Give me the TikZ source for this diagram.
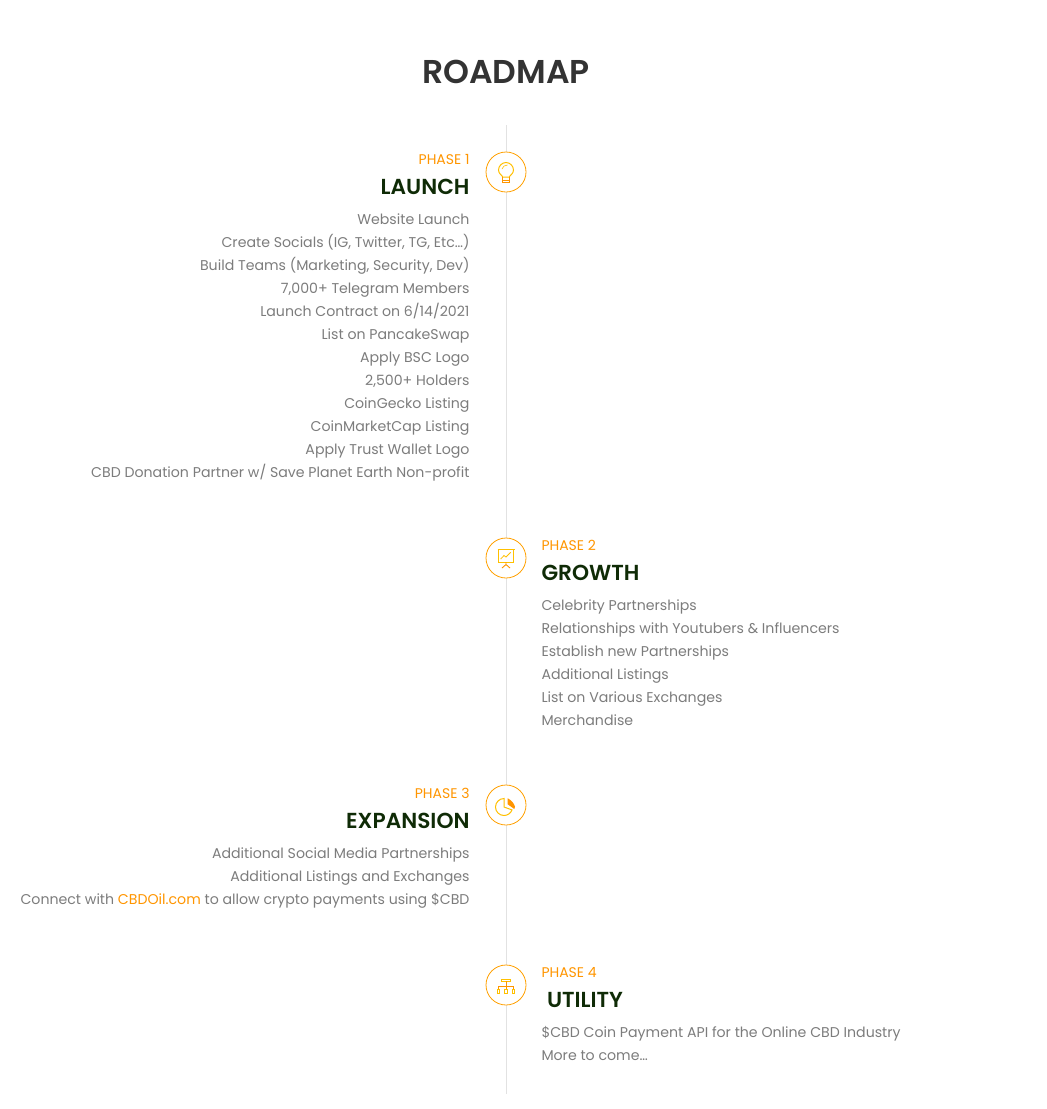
\documentclass[tikz,border=0pt]{standalone}
\usepackage{fontspec}
\setmainfont{Poppins}
\newfontfamily\psemi{Poppins SemiBold}
\definecolor{orng}{HTML}{FF9500}
\definecolor{ring}{HTML}{FFA000}
\definecolor{icon}{HTML}{FFC000}
\definecolor{dgreen}{HTML}{0F2B06}
\definecolor{body}{HTML}{7C7C7C}
\definecolor{ttl}{HTML}{333333}
\definecolor{rule}{HTML}{E2E2E2}
\tikzset{
 x=1pt,y=-1pt,
 every node/.style={inner sep=0pt,outer sep=0pt},
 ttlnode/.style={font=\fontsize{33}{36}\psemi,text=ttl,anchor=base},
 phl/.style={font=\fontsize{14}{16}\selectfont,text=orng,anchor=base east},
 phr/.style={font=\fontsize{14}{16}\selectfont,text=orng,anchor=base west},
 hdl/.style={font=\fontsize{21.7}{24}\psemi,text=dgreen,anchor=base east},
 hdr/.style={font=\fontsize{21.7}{24}\psemi,text=dgreen,anchor=base west},
 txl/.style={font=\fontsize{14.15}{16}\selectfont,text=body,anchor=base east},
 txr/.style={font=\fontsize{14.15}{16}\selectfont,text=body,anchor=base west},
 ringnode/.style={circle,draw=ring,fill=white,line width=0.8pt,minimum size=40pt},
 ic/.style={draw=icon,line width=1pt},
}
\begin{document}
\begin{tikzpicture}
\useasboundingbox (0,0) rectangle (1047,1109);
\coordinate (top) at (506,125);
\coordinate (bot) at (506,1094);
\draw[rule,line width=1pt] (top) -- (bot);
\node[ttlnode] (title) at (506,83) {ROADMAP};
% Phase 1
\node[ringnode] (c1) at (506,172) {};
\begin{scope}[shift={(c1.center)}]
 \draw[ic] (-3.3,5) .. controls (-3.5,3.5) and (-7.5,2) .. (-7.5,-2) .. controls (-7.5,-6) and (-4,-9.5) .. (0,-9.5) .. controls (4,-9.5) and (7.5,-6) .. (7.5,-2) .. controls (7.5,2) and (3.5,3.5) .. (3.3,5) -- cycle;
 \draw[draw=orng,line width=.9pt] (-3.3,5) -- (-3.3,10.5) -- (3.3,10.5) -- (3.3,5) (-3.3,8) -- (3.3,8);
 \draw[ic,line width=.6pt] (-4,-3) .. controls (-3.5,-5.5) and (-1,-7) .. (1.5,-7);
\end{scope}
\node[phl] (p1) at (469.5,164) {PHASE 1};
\node[hdl] (h1) at (469.5,194) {LAUNCH};
\node[txl] (a1) at (469.5,224) {Website Launch};
\node[txl] (a2) at (469.5,247) {Create Socials (IG, Twitter, TG, Etc…)};
\node[txl] (a3) at (469.5,270) {Build Teams (Marketing, Security, Dev)};
\node[txl] (a4) at (469.5,293) {7,000+ Telegram Members};
\node[txl] (a5) at (469.5,316) {Launch Contract on 6/14/2021};
\node[txl] (a6) at (469.5,339) {List on PancakeSwap};
\node[txl] (a7) at (469.5,362) {Apply BSC Logo};
\node[txl] (a8) at (469.5,385) {2,500+ Holders};
\node[txl] (a9) at (469.5,408) {CoinGecko Listing};
\node[txl] (a10) at (469.5,431) {CoinMarketCap Listing};
\node[txl] (a11) at (469.5,454) {Apply Trust Wallet Logo};
\node[txl] (a12) at (469.5,477) {CBD Donation Partner w/ Save Planet Earth Non-profit};
% Phase 2
\node[ringnode] (c2) at (506,558) {};
\begin{scope}[shift={(c2.center)}]
 \draw[ic] (-8.5,-9) -- (8.5,-9) (-7.5,-9) -- (-7.5,4) -- (7.5,4) -- (7.5,-9);
 \draw[ic,line width=.8pt] (-5.3,1) -- (-2,-2.5) -- (0,-1) -- (4.7,-5.7);
 \draw[draw=orng,line width=.9pt] (-4,10) -- (0,6.5) -- (4,10) (0,4) -- (0,7);
\end{scope}
\node[phr] (p2) at (541.5,550) {PHASE 2};
\node[hdr] (h2) at (541.5,580) {GROWTH};
\node[txr] (b1) at (541.5,610) {Celebrity Partnerships};
\node[txr] (b2) at (541.5,633) {Relationships with Youtubers \& Influencers};
\node[txr] (b3) at (541.5,656) {Establish new Partnerships};
\node[txr] (b4) at (541.5,679) {Additional Listings};
\node[txr] (b5) at (541.5,702) {List on Various Exchanges};
\node[txr] (b6) at (541.5,725) {Merchandise};
% Phase 3
\node[ringnode] (c3) at (506,805) {};
\begin{scope}[shift={(c3.center)}]
 \draw[ic] (-2,-6.5) arc[start angle=270,end angle=20,radius=8.5] -- (-2,2) -- cycle;
 \fill[orng] (1.7,-6.7) .. controls (5,-5) and (8,-2) .. (9,1.7) -- (8.3,4) -- (1.7,-0.7) -- cycle;
\end{scope}
\node[phl] (p3) at (469.5,798) {PHASE 3};
\node[hdl] (h3) at (469.5,828) {EXPANSION};
\node[txl] (d1) at (469.5,858) {Additional Social Media Partnerships};
\node[txl] (d2) at (469.5,881) {Additional Listings and Exchanges};
\node[txl] (d3) at (469.5,904) {Connect with \textcolor{orng}{CBDOil.com} to allow crypto payments using \$CBD};
% Phase 4
\node[ringnode] (c4) at (506,985) {};
\begin{scope}[shift={(c4.center)}]
 \draw[ic] (-5,-6) rectangle (4.7,-4);
 \draw[draw=orng,line width=.9pt] (0,-4) -- (0,1) (-7.5,4) -- (-7.5,1) -- (7.5,1) -- (7.5,4) (0,1) -- (0,4);
 \draw[ic] (-8.8,4) rectangle (-6.2,8.7);
 \draw[ic] (-1.3,4) rectangle (1.3,8.7);
 \draw[ic] (6.2,4) rectangle (8.8,8.7);
\end{scope}
\node[phr] (p4) at (541.5,977) {PHASE 4};
\node[hdr] (h4) at (547,1007) {UTILITY};
\node[txr] (e1) at (541.5,1037) {\$CBD Coin Payment API for the Online CBD Industry};
\node[txr] (e2) at (541.5,1060) {More to come…};
\end{tikzpicture}
\end{document}
